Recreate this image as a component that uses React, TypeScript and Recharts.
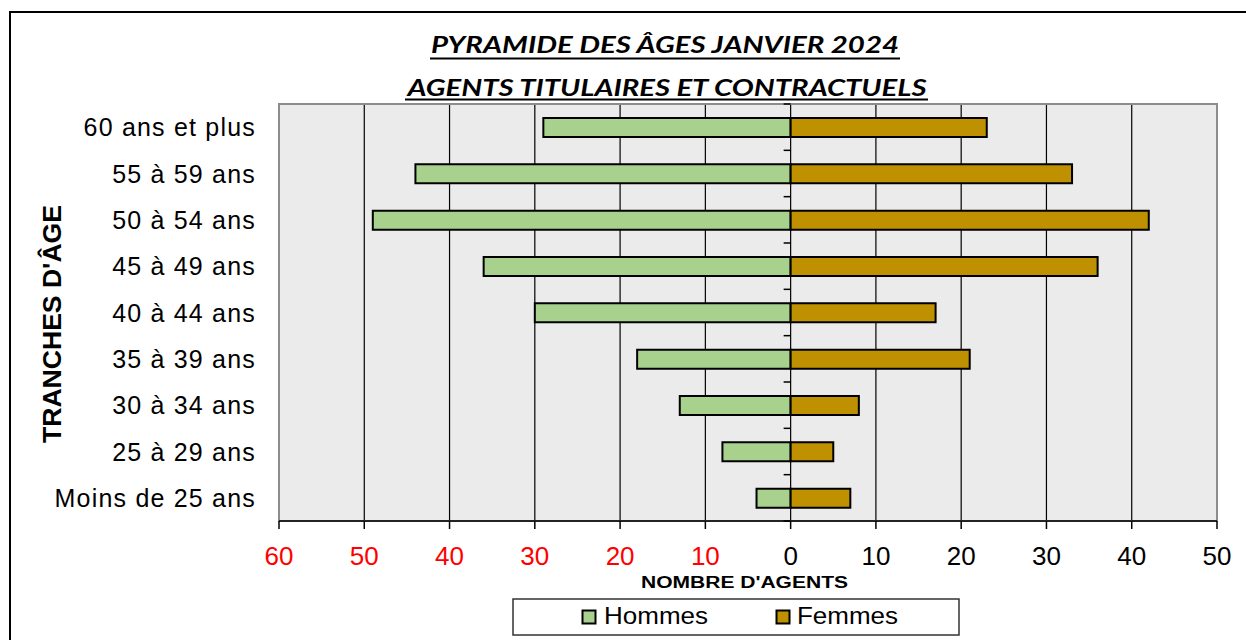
import { BarChart, Bar, XAxis, YAxis, CartesianGrid, ReferenceArea } from "recharts";

const categories = [
  "60 ans et plus",
  "55 à 59 ans",
  "50 à 54 ans",
  "45 à 49 ans",
  "40 à 44 ans",
  "35 à 39 ans",
  "30 à 34 ans",
  "25 à 29 ans",
  "Moins de 25 ans",
];
const hommes = [29, 44, 49, 36, 30, 18, 13, 8, 4];
const femmes = [23, 33, 42, 36, 17, 21, 8, 5, 7];
const xTicks = [-60, -50, -40, -30, -20, -10, 0, 10, 20, 30, 40, 50];

const data = categories.map((name, i) => ({
  name,
  Hommes: -hommes[i],
  Femmes: femmes[i],
}));

const W = 1246;
const H = 640;
const PLOT_LEFT = 279;
const PLOT_RIGHT = 1217;
const PLOT_TOP = 104;
const PLOT_BOTTOM = 521;
const XMIN = -60;
const XMAX = 50;

const GREEN = "#A9D18E";
const GOLD = "#BF9000";
const ARIAL = "'Liberation Sans', Arial, sans-serif";
const TITLE_FONT = "Lato, 'Open Sans', sans-serif";

const zeroX = PLOT_LEFT + ((0 - XMIN) / (XMAX - XMIN)) * (PLOT_RIGHT - PLOT_LEFT);
const band = (PLOT_BOTTOM - PLOT_TOP) / categories.length;

const XTick = ({ x, y, payload }: any) => {
  const v = payload.value;
  return (
    <text
      x={x}
      y={y + 34}
      textAnchor="middle"
      fontFamily={ARIAL}
      fontSize={26}
      fill={v < 0 ? "#FF0000" : "#000"}
    >
      {Math.abs(v)}
    </text>
  );
};

const YTick = ({ y, payload, index }: any) => (
  <g>
    <text
      x={PLOT_LEFT - 23}
      y={y + 9}
      textAnchor="end"
      fontFamily={ARIAL}
      fontSize={25}
      letterSpacing={1.2}
      fill="#000"
    >
      {payload.value}
    </text>
    <line x1={zeroX - 7} x2={zeroX} y1={y - band / 2} y2={y - band / 2} stroke="#000" strokeWidth={1.5} />
    {index === categories.length - 1 && (
      <line x1={zeroX - 7} x2={zeroX} y1={y + band / 2} y2={y + band / 2} stroke="#000" strokeWidth={1.5} />
    )}
  </g>
);

const YLabel = () => (
  <text
    x={61}
    y={324}
    transform="rotate(-90 61 324)"
    textAnchor="middle"
    fontFamily={ARIAL}
    fontWeight="bold"
    fontSize={26}
    textLength={238}
    lengthAdjust="spacingAndGlyphs"
    fill="#000"
  >
    TRANCHES D'ÂGE
  </text>
);

const XLabel = () => (
  <text
    x={744.5}
    y={588}
    textAnchor="middle"
    fontFamily={ARIAL}
    fontWeight="bold"
    fontSize={16}
    textLength={207}
    lengthAdjust="spacingAndGlyphs"
    fill="#000"
  >
    NOMBRE D'AGENTS
  </text>
);

const legendItems = [
  { label: "Hommes", color: GREEN, mx: 582.5, tx: 604, w: 104 },
  { label: "Femmes", color: GOLD, mx: 776.5, tx: 797, w: 101 },
];

const Overlay = () => (
  <svg width={W} height={H} style={{ position: "absolute", left: 0, top: 0, pointerEvents: "none" }}>
    <text
      x={665}
      y={53}
      textAnchor="middle"
      fontFamily={TITLE_FONT}
      fontWeight="bold"
      fontStyle="italic"
      fontSize={22}
      textLength={468}
      lengthAdjust="spacingAndGlyphs"
      fill="#000"
    >
      PYRAMIDE DES ÂGES JANVIER 2024
    </text>
    <line x1={430} x2={900} y1={58.5} y2={58.5} stroke="#000" strokeWidth={2} />
    <text
      x={667}
      y={96}
      textAnchor="middle"
      fontFamily={TITLE_FONT}
      fontWeight="bold"
      fontStyle="italic"
      fontSize={22}
      textLength={519}
      lengthAdjust="spacingAndGlyphs"
      fill="#000"
    >
      AGENTS TITULAIRES ET CONTRACTUELS
    </text>
    <line x1={405} x2={928} y1={99.5} y2={99.5} stroke="#000" strokeWidth={2} />

    <rect x={513} y={599} width={446} height={36} fill="#fff" stroke="#333" strokeWidth={1.5} />
    {legendItems.map((it) => (
      <g key={it.label}>
        <rect x={it.mx} y={610.5} width={13} height={13} fill={it.color} stroke="#000" strokeWidth={2} />
        <text
          x={it.tx}
          y={624}
          fontFamily={ARIAL}
          fontSize={24}
          textLength={it.w}
          lengthAdjust="spacingAndGlyphs"
          fill="#000"
        >
          {it.label}
        </text>
      </g>
    ))}
  </svg>
);

export default function App() {
  return (
    <div style={{ position: "absolute", left: 0, top: 0, width: W, height: H, overflow: "hidden", background: "#fff" }}>
      <div
        style={{
          position: "absolute",
          left: 9,
          top: 11,
          width: W + 20,
          height: H + 20,
          borderLeft: "2px solid #000",
          borderTop: "2px solid #000",
        }}
      />
      <div style={{ position: "absolute", left: 0, top: 0 }}>
        <BarChart
          width={W}
          height={H}
          data={data}
          layout="vertical"
          stackOffset="sign"
          barSize={19}
          margin={{ top: PLOT_TOP, right: W - PLOT_RIGHT, bottom: 0, left: 0 }}
        >
          <CartesianGrid horizontal={false} vertical={true} stroke="#000" strokeWidth={1.2} fill="#EBEBEB" fillOpacity={1} />
          <ReferenceArea x1={XMIN} x2={XMAX} stroke="#8C8C8C" strokeWidth={2} fill="none" fillOpacity={0} />
          <XAxis
            type="number"
            domain={[XMIN, XMAX]}
            ticks={xTicks}
            interval={0}
            height={H - PLOT_BOTTOM}
            stroke="#000"
            strokeWidth={1.5}
            tickSize={8}
            tick={<XTick />}
            label={<XLabel />}
          />
          <YAxis
            type="category"
            dataKey="name"
            width={PLOT_LEFT}
            axisLine={false}
            tickLine={false}
            interval={0}
            tick={<YTick />}
            label={<YLabel />}
          />
          <Bar dataKey="Hommes" stackId="a" fill={GREEN} stroke="#000" strokeWidth={2} isAnimationActive={false} />
          <Bar dataKey="Femmes" stackId="a" fill={GOLD} stroke="#000" strokeWidth={2} isAnimationActive={false} />
        </BarChart>
      </div>
      <Overlay />
    </div>
  );
}
